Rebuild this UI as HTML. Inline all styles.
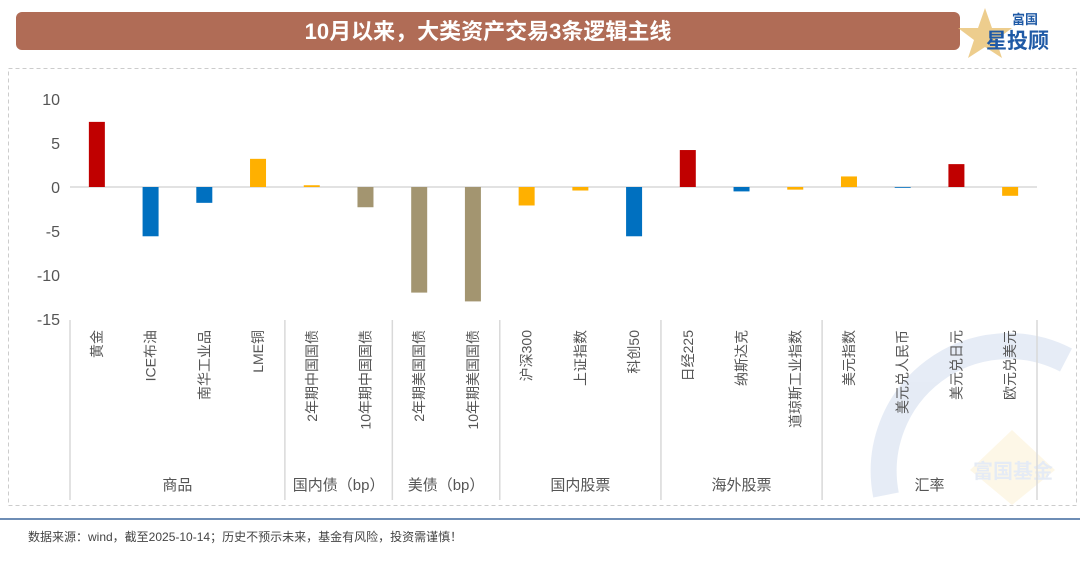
<!DOCTYPE html>
<html><head><meta charset="utf-8"><style>
html,body{margin:0;width:1080px;height:566px;background:#fff;overflow:hidden;font-family:"Liberation Sans","Noto Sans CJK SC",sans-serif;}
svg{display:block}
</style></head><body>
<svg id="chart" width="1080" height="566" xmlns="http://www.w3.org/2000/svg">
<rect x="16" y="12" width="944" height="38" rx="6" fill="#B06C56"/>
<text x="488" y="39" text-anchor="middle" font-size="22" font-weight="bold" fill="#fff" font-family="Liberation Sans,Noto Sans CJK SC,sans-serif">10月以来，大类资产交易3条逻辑主线</text>
<g>
<polygon points="985,8 992,28 1012,28 996,40 1002,58 985,47 968,58 974,40 958,28 978,28" fill="#E8C070" opacity="0.8"/>
<text x="1012" y="24" font-size="13" font-weight="bold" fill="#1F5AA6" font-family="Noto Sans CJK SC,sans-serif">富国</text>
<text x="986" y="48" font-size="21" font-weight="bold" fill="#1F5AA6" font-family="Noto Sans CJK SC,sans-serif">星投顾</text>
</g>
<rect x="8.5" y="68.5" width="1068" height="437" fill="none" stroke="#ccc" stroke-dasharray="4,3"/>
<g opacity="0.12">
<path d="M 886 495 A 125 125 0 0 1 1066 360" fill="none" stroke="#2F66B3" stroke-width="26"/>
<polygon points="1012,430 1055,470 1012,505 970,470" fill="#F5C040"/>
<text x="1013" y="478" text-anchor="middle" font-size="20" font-weight="bold" fill="#2F66B3" font-family="Noto Sans CJK SC,sans-serif">富国基金</text>
</g>
<g id="plot"></g>
<line x1="0" y1="519" x2="1080" y2="519" stroke="#6E8DB5" stroke-width="2"/>
<text x="28" y="541" font-size="12" fill="#444" font-family="Liberation Sans,Noto Sans CJK SC,sans-serif">数据来源：wind，截至2025-10-14；历史不预示未来，基金有风险，投资需谨慎！</text>
</svg>
<script>
const categories=["黄金","ICE布油","南华工业品","LME铜","2年期中国国债","10年期中国国债","2年期美国国债","10年期美国国债","沪深300","上证指数","科创50","日经225","纳斯达克","道琼斯工业指数","美元指数","美元兑人民币","美元兑日元","欧元兑美元"];
const values=[7.4,-5.6,-1.8,3.2,0.2,-2.3,-12,-13,-2.1,-0.4,-5.6,4.2,-0.5,-0.3,1.2,-0.05,2.6,-1.0];
const colorKeys=["r","b","b","y","y","k","k","k","y","y","b","r","b","y","y","b","r","y"];
const groups=["商品","国内债（bp）","美债（bp）","国内股票","海外股票","汇率"];
const groupSizes=[4,2,2,3,3,4];
const yTicks=[10,5,0,-5,-10,-15];
const palette={r:"#C00000",b:"#0070C0",y:"#FFB000",k:"#A39570"};
const NS="http://www.w3.org/2000/svg";
const g=document.getElementById('plot');
const x0=70,x1=1037,yTop=99,yBot=319,vMax=10,vMin=-15;
const step=(x1-x0)/categories.length;
const y=v=>yTop+(vMax-v)*(yBot-yTop)/(vMax-vMin);
const xc=i=>x0+step*(i+0.5);
function mk(t,a){const e=document.createElementNS(NS,t);for(const k in a)e.setAttribute(k,a[k]);g.appendChild(e);return e;}
yTicks.forEach(t=>{const e=mk('text',{x:60,y:y(t)+6,'text-anchor':'end','font-size':16,fill:'#555'});e.textContent=t;

});
const ax=mk('line',{x1:x0,x2:x1,y1:y(0),y2:y(0),stroke:'#d9d9d9','stroke-width':1.5});


values.forEach((v,i)=>{const top=Math.min(y(v),y(0)),h=Math.max(Math.abs(y(v)-y(0)),0.8);
const r=mk('rect',{x:xc(i)-8,y:top,width:16,height:h,fill:palette[colorKeys[i]]});


const tx=xc(i)+5;const t=mk('text',{x:tx,y:330,'text-anchor':'end','font-size':14,fill:'#555',transform:`rotate(-90 ${tx} 330)`,'font-family':'Liberation Sans,Noto Sans CJK SC,sans-serif'});t.textContent=categories[i];

});
let idx=0;
const sep=xx=>{const l=mk('line',{x1:xx,x2:xx,y1:320,y2:500,stroke:'#d9d9d9','stroke-width':1.5});

};
sep(x0);
groups.forEach((gn,k)=>{const a=x0+idx*step;idx+=groupSizes[k];const b=x0+idx*step;sep(b);
const t=mk('text',{x:(a+b)/2,y:490,'text-anchor':'middle','font-size':15,fill:'#555','font-family':'Liberation Sans,Noto Sans CJK SC,sans-serif'});t.textContent=gn;

});
</script>
</body></html>
